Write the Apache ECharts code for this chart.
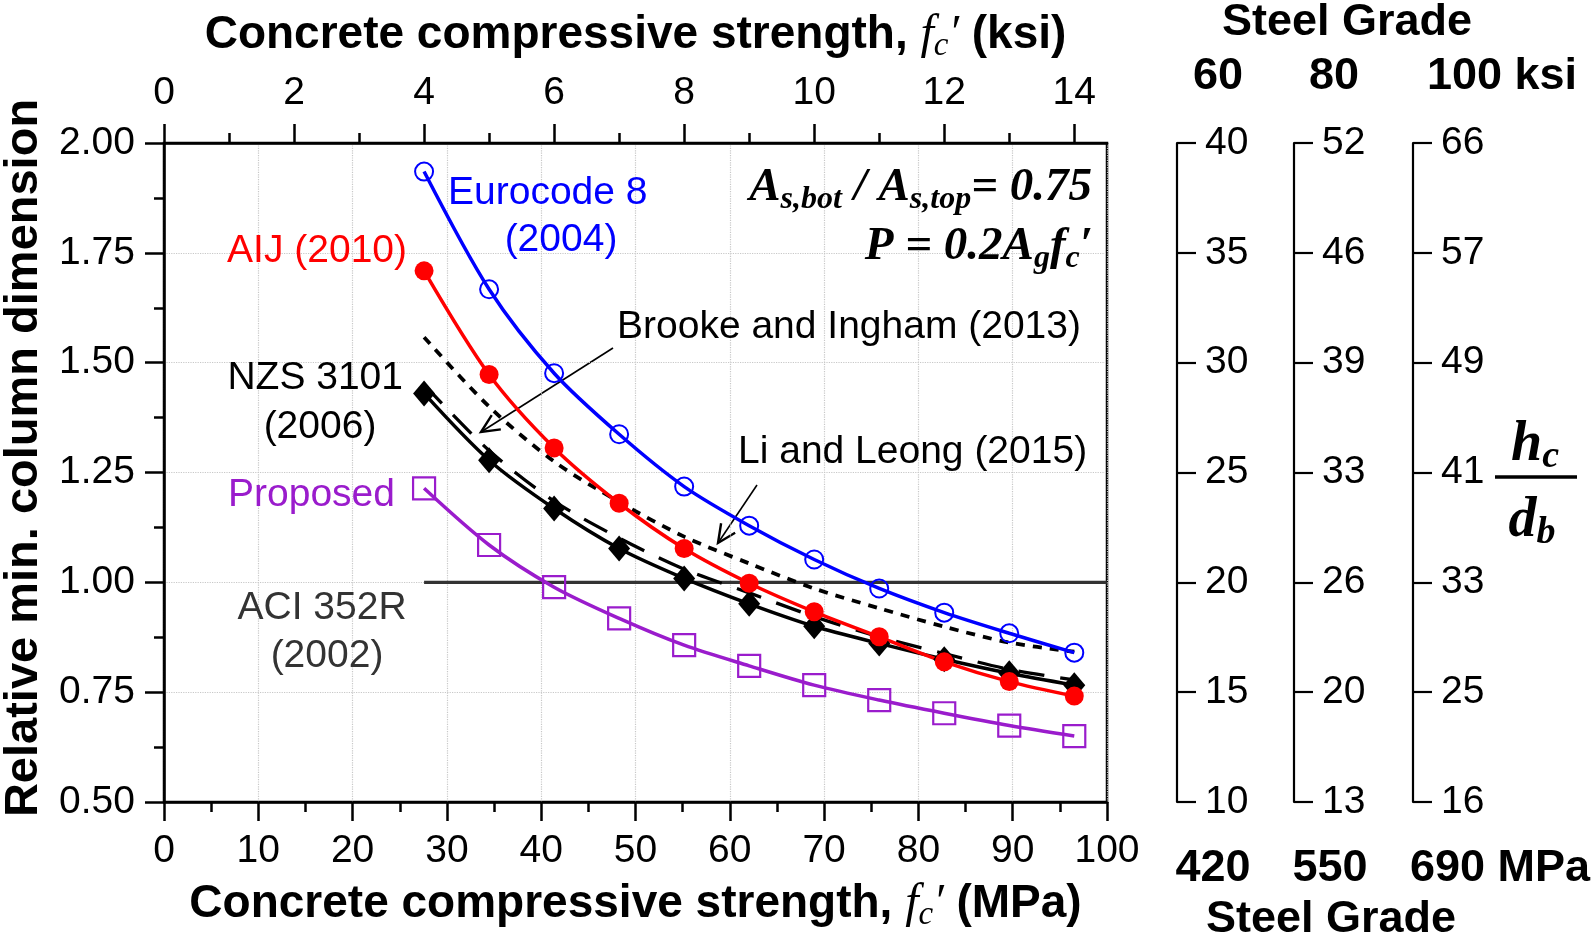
<!DOCTYPE html>
<html>
<head>
<meta charset="utf-8">
<script src="https://cdn.jsdelivr.net/npm/echarts@6/dist/echarts.min.js"></script>
<style>
html,body{margin:0;padding:0;background:#fff}
#chart{width:1595px;height:938px}
</style>
</head>
<body>
<div id="chart"></div>
<script>
// concrete strength at each design point (ksi)
var fcKsi = [4, 5, 6, 7, 8, 9, 10, 11, 12, 13, 14];
// relative min. column dimension
var eurocode = [1.935, 1.667, 1.476, 1.337, 1.218, 1.129, 1.052, 0.986, 0.931, 0.884, 0.840];
var aij      = [1.709, 1.473, 1.306, 1.180, 1.077, 0.998, 0.933, 0.876, 0.819, 0.774, 0.741];
var nzs      = [1.430, 1.278, 1.168, 1.077, 1.009, 0.951, 0.900, 0.861, 0.825, 0.793, 0.766];
var proposed = [1.214, 1.085, 0.989, 0.918, 0.857, 0.810, 0.766, 0.732, 0.702, 0.674, 0.650];
var brooke   = [1.558, 1.400, 1.275, 1.183, 1.104, 1.043, 0.986, 0.941, 0.899, 0.863, 0.842];
var liLeong  = [1.450, 1.300, 1.185, 1.101, 1.030, 0.976, 0.922, 0.876, 0.838, 0.802, 0.778];
var aciKsi   = [4, 14.5];
var aciRel   = [1.0, 1.0];

// hc/db tick labels for the three steel grades (bottom to top)
var grade60  = [10, 15, 20, 25, 30, 35, 40];
var grade80  = [13, 20, 26, 33, 39, 46, 52];
var grade100 = [16, 25, 33, 41, 49, 57, 66];
var ksiMajor = [0, 2, 4, 6, 8, 10, 12, 14];
var ksiMinor = [1, 3, 5, 7, 9, 11, 13];

var SANS = 'Liberation Sans, Arial, sans-serif';
var SERIF = 'Liberation Serif, Times New Roman, serif';
var ksiMax = 100 / 6.895;

function pairs(xs, ys) {
    return xs.map(function (x, i) { return [x, ys[i]]; });
}

function rightAxis(offset, labels) {
    return {
        type: 'value', position: 'right', offset: offset,
        min: 0.5, max: 2, interval: 0.25,
        axisLine: { show: true, onZero: false, lineStyle: { color: '#000', width: 2.2 } },
        axisTick: { show: true, length: 19, lineStyle: { color: '#000', width: 2.2 } },
        splitLine: { show: false },
        axisLabel: {
            margin: 28, fontSize: 39, color: '#000', fontFamily: SANS,
            formatter: function (v) { return String(labels[Math.round((v - 0.5) / 0.25)]); }
        }
    };
}

function arrow(x1, y1, x2, y2) {
    var dx = x1 - x2, dy = y1 - y2, len = Math.sqrt(dx * dx + dy * dy);
    var ux = dx / len, uy = dy / len, a = 25 * Math.PI / 180, h = 20;
    function rot(s) {
        return [x2 + h * (ux * Math.cos(s * a) - uy * Math.sin(s * a)),
                y2 + h * (ux * Math.sin(s * a) + uy * Math.cos(s * a))];
    }
    return [
        { type: 'line', shape: { x1: x1, y1: y1, x2: x2, y2: y2 }, style: { stroke: '#000', lineWidth: 1.6 } },
        { type: 'polyline', shape: { points: [rot(1), [x2, y2], rot(-1)] }, style: { stroke: '#000', lineWidth: 2.4, fill: null } }
    ];
}

function txt(text, x, y, color, align, extra) {
    var st = { text: text, x: x, y: y, fill: color, align: align, verticalAlign: 'middle',
               fontSize: 39, fontFamily: SANS };
    for (var k in extra) st[k] = extra[k];
    return { type: 'text', z: 100, style: st };
}

var boldBig = { fontSize: 45, fontWeight: 'bold', fontFamily: SANS };
var formulaRich = {
    A: { fontSize: 47, fontWeight: 'bold', fontStyle: 'italic', fontFamily: SERIF, lineHeight: 56 },
    s: { fontSize: 32, fontWeight: 'bold', fontStyle: 'italic', fontFamily: SERIF, lineHeight: 28, verticalAlign: 'bottom' }
};
var nameRich = {
    b: { fontSize: 46, fontWeight: 'bold', fontFamily: SANS, lineHeight: 56 },
    f: { fontSize: 48, fontStyle: 'italic', fontFamily: SERIF, lineHeight: 56 },
    s: { fontSize: 33, fontStyle: 'italic', fontFamily: SERIF, lineHeight: 28, verticalAlign: 'bottom' }
};
var fracRich = {
    h: { fontSize: 56, fontWeight: 'bold', fontStyle: 'italic', fontFamily: SERIF, lineHeight: 60 },
    s: { fontSize: 38, fontWeight: 'bold', fontStyle: 'italic', fontFamily: SERIF, lineHeight: 32, verticalAlign: 'bottom' }
};

var chart = echarts.init(document.getElementById('chart'));

var graphics = [
    txt('Eurocode 8', 448, 193, '#0000ff', 'left'),
    txt('(2004)', 561, 240, '#0000ff', 'center'),
    txt('AIJ (2010)', 407, 251, '#ff0000', 'right'),
    txt('NZS 3101', 403, 378, '#000', 'right'),
    txt('(2006)', 320, 427, '#000', 'center'),
    txt('Proposed', 395, 495, '#9a1ccc', 'right'),
    txt('ACI 352R', 322, 608, '#333', 'center'),
    txt('(2002)', 327, 656, '#333', 'center'),
    txt('Brooke and Ingham (2013)', 617, 327, '#000', 'left'),
    txt('Li and Leong (2015)', 738, 452, '#000', 'left'),
    { type: 'text', z: 100, style: { text: '{A|A}{s|s,bot}{A| / A}{s|s,top}{A|= 0.75}', rich: formulaRich,
        x: 1092, y: 188, align: 'right', verticalAlign: 'middle', fill: '#000' } },
    { type: 'text', z: 100, style: { text: '{A|P = 0.2A}{s|g}{A|f}{s|c}{A|\u2032}', rich: formulaRich,
        x: 1093, y: 247, align: 'right', verticalAlign: 'middle', fill: '#000' } },
    { type: 'text', z: 100, rotation: Math.PI / 2, x: 24, y: 458,
        style: { text: 'Relative min. column dimension', x: 0, y: 0, align: 'center', verticalAlign: 'middle',
                 fill: '#000', fontSize: 47, fontWeight: 'bold', fontFamily: SANS } },
    txt('Steel Grade', 1347, 23, '#000', 'center', boldBig),
    txt('60', 1218, 77, '#000', 'center', boldBig),
    txt('80', 1334, 77, '#000', 'center', boldBig),
    txt('100 ksi', 1502, 77, '#000', 'center', boldBig),
    txt('420', 1213, 869, '#000', 'center', boldBig),
    txt('550', 1330, 869, '#000', 'center', boldBig),
    txt('690 MPa', 1500, 869, '#000', 'center', boldBig),
    txt('Steel Grade', 1331, 920, '#000', 'center', boldBig),
    { type: 'text', z: 100, style: { text: '{h|h}{s|c}', rich: fracRich, x: 1535, y: 446,
        align: 'center', verticalAlign: 'middle', fill: '#000' } },
    { type: 'line', shape: { x1: 1495, y1: 477, x2: 1577, y2: 477 }, style: { stroke: '#000', lineWidth: 3.5 } },
    { type: 'text', z: 100, style: { text: '{h|d}{s|b}', rich: fracRich, x: 1532, y: 522,
        align: 'center', verticalAlign: 'middle', fill: '#000' } }
].concat(arrow(613, 348, 481, 432), arrow(757, 485, 718, 543));

var blackLine = { show: true, onZero: false, lineStyle: { color: '#000', width: 2.5 } };

option = {
    animation: false,
    backgroundColor: '#fff',
    grid: { left: 164, right: 488, top: 143, bottom: 136, show: true, borderColor: '#000', borderWidth: 2.5 },
    xAxis: [
        {
            type: 'value', position: 'bottom', min: 0, max: 100, interval: 10,
            axisLine: blackLine,
            axisTick: { show: true, length: 19, lineStyle: { color: '#000', width: 2.5 } },
            minorTick: { show: true, splitNumber: 2, length: 10, lineStyle: { color: '#000', width: 2.5 } },
            splitLine: { show: true, lineStyle: { color: '#c8c8c8', type: 'dotted', width: 1.2 } },
            axisLabel: { margin: 30, fontSize: 39, color: '#000', fontFamily: SANS },
            name: '{b|Concrete compressive strength, }{f|f}{s|c}{f|\u2032}{b| (MPa)}',
            nameLocation: 'middle', nameGap: 74,
            nameTextStyle: { rich: nameRich, color: '#000' }
        },
        {
            type: 'value', position: 'top', min: 0, max: ksiMax,
            axisLine: blackLine,
            axisTick: { show: true, length: 19, customValues: ksiMajor, lineStyle: { color: '#000', width: 2.5 } },
            splitLine: { show: false },
            axisLabel: { margin: 30, fontSize: 39, color: '#000', fontFamily: SANS, customValues: ksiMajor },
            name: '{b|Concrete compressive strength, }{f|f}{s|c}{f|\u2032}{b| (ksi)}',
            nameLocation: 'middle', nameGap: 80,
            nameTextStyle: { rich: nameRich, color: '#000' }
        },
        {
            type: 'value', position: 'top', min: 0, max: ksiMax,
            axisLine: { show: false, onZero: false },
            axisTick: { show: true, length: 10, customValues: ksiMinor, lineStyle: { color: '#000', width: 2.5 } },
            splitLine: { show: false },
            axisLabel: { show: false }
        }
    ],
    yAxis: [
        {
            type: 'value', position: 'left', min: 0.5, max: 2, interval: 0.25,
            axisLine: blackLine,
            axisTick: { show: true, length: 19, lineStyle: { color: '#000', width: 2.5 } },
            minorTick: { show: true, splitNumber: 2, length: 10, lineStyle: { color: '#000', width: 2.5 } },
            splitLine: { show: true, lineStyle: { color: '#c8c8c8', type: 'dotted', width: 1.2 } },
            axisLabel: { margin: 29, fontSize: 39, color: '#000', fontFamily: SANS,
                formatter: function (v) { return v.toFixed(2); } }
        },
        rightAxis(70, grade60),
        rightAxis(187, grade80),
        rightAxis(306, grade100)
    ],
    series: [
        {
            name: 'ACI 352R (2002)', type: 'line', xAxisIndex: 1, yAxisIndex: 0,
            data: pairs(aciKsi, aciRel), symbol: 'none',
            lineStyle: { color: '#333', width: 3.2 }
        },
        {
            name: 'Brooke and Ingham (2013)', type: 'line', xAxisIndex: 1, yAxisIndex: 0,
            data: pairs(fcKsi, brooke), symbol: 'none', smooth: 0.3,
            lineStyle: { color: '#000', width: 3.8, type: [9, 8] }
        },
        {
            name: 'Li and Leong (2015)', type: 'line', xAxisIndex: 1, yAxisIndex: 0,
            data: pairs(fcKsi, liLeong), symbol: 'none', smooth: 0.3,
            lineStyle: { color: '#000', width: 3.3, type: [26, 16] }
        },
        {
            name: 'Proposed', type: 'line', xAxisIndex: 1, yAxisIndex: 0,
            data: pairs(fcKsi, proposed), smooth: 0.3,
            symbol: 'rect', symbolSize: 22,
            lineStyle: { color: '#9a1ccc', width: 3.5 },
            itemStyle: { color: 'rgba(255,255,255,0)', borderColor: '#9a1ccc', borderWidth: 2.2 }
        },
        {
            name: 'NZS 3101 (2006)', type: 'line', xAxisIndex: 1, yAxisIndex: 0,
            data: pairs(fcKsi, nzs), smooth: 0.3,
            symbol: 'diamond', symbolSize: [22, 26],
            lineStyle: { color: '#000', width: 3.5 },
            itemStyle: { color: '#000' }
        },
        {
            name: 'AIJ (2010)', type: 'line', xAxisIndex: 1, yAxisIndex: 0,
            data: pairs(fcKsi, aij), smooth: 0.3,
            symbol: 'circle', symbolSize: 19,
            lineStyle: { color: '#ff0000', width: 3.5 },
            itemStyle: { color: '#ff0000' }
        },
        {
            name: 'Eurocode 8 (2004)', type: 'line', xAxisIndex: 1, yAxisIndex: 0,
            data: pairs(fcKsi, eurocode), smooth: 0.3,
            symbol: 'circle', symbolSize: 18,
            lineStyle: { color: '#0000ff', width: 3.5 },
            itemStyle: { color: 'rgba(255,255,255,0)', borderColor: '#0000ff', borderWidth: 2 }
        }
    ],
    graphic: graphics
};

chart.setOption(option);
window.addEventListener('resize', function () { chart.resize(); });
</script>
</body>
</html>
